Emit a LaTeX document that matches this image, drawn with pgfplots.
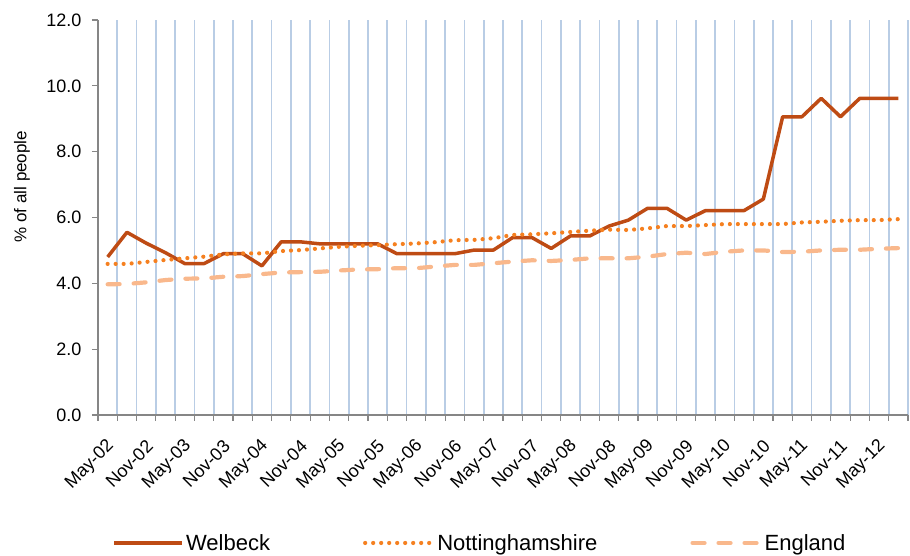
\documentclass[border=0pt]{standalone}
\usepackage{fontspec}
\setmainfont{Liberation Sans}
\usepackage{pgfplots}
\usepackage{pgfplotstable}
\pgfplotsset{compat=1.18}
\definecolor{welb}{RGB}{190,75,20}
\definecolor{notts}{RGB}{245,128,32}
\definecolor{eng}{RGB}{249,184,140}
\definecolor{gridblue}{RGB}{185,205,229}
\definecolor{axgray}{RGB}{134,134,134}
\pgfplotstableread{
i W N E
0 4.80 4.59 3.97
1 5.55 4.59 3.98
2 5.22 4.65 4.03
3 4.93 4.71 4.10
4 4.60 4.76 4.14
5 4.60 4.81 4.15
6 4.90 4.88 4.20
7 4.90 4.91 4.22
8 4.53 4.91 4.28
9 5.26 4.98 4.33
10 5.26 5.01 4.34
11 5.20 5.06 4.35
12 5.20 5.11 4.39
13 5.20 5.14 4.42
14 5.20 5.16 4.43
15 4.90 5.19 4.46
16 4.90 5.21 4.46
17 4.90 5.25 4.51
18 4.90 5.31 4.56
19 5.01 5.32 4.56
20 5.01 5.37 4.61
21 5.39 5.47 4.66
22 5.39 5.49 4.70
23 5.06 5.52 4.68
24 5.44 5.56 4.71
25 5.44 5.60 4.76
26 5.74 5.63 4.76
27 5.92 5.62 4.76
28 6.28 5.67 4.81
29 6.28 5.74 4.89
30 5.92 5.74 4.93
31 6.21 5.77 4.89
32 6.21 5.80 4.96
33 6.21 5.80 5.00
34 6.56 5.80 5.00
35 9.06 5.80 4.95
36 9.06 5.85 4.96
37 9.62 5.87 5.00
38 9.06 5.90 5.02
39 9.62 5.92 5.02
40 9.62 5.92 5.05
41 9.62 5.95 5.07
}\datatable
\begin{document}
\begin{tikzpicture}
\path[use as bounding box] (0,0) rectangle (910pt,556pt);
\begin{axis}[
  at={(98pt,141pt)}, anchor=south west,
  scale only axis, width=810pt, height=395pt,
  xmin=-0.5, xmax=41.5, ymin=0, ymax=12,
  axis x line*=bottom, axis y line*=left,
  axis line style={axgray, line width=1.5pt},
  tick align=outside,
  major tick length=6pt, minor tick length=6pt,
  tick style={axgray, line width=1.2pt},
  xtick={0,2,...,40},
  xticklabels={May-02,Nov-02,May-03,Nov-03,May-04,Nov-04,May-05,Nov-05,May-06,Nov-06,May-07,Nov-07,May-08,Nov-08,May-09,Nov-09,May-10,Nov-10,May-11,Nov-11,May-12},
  major x tick style={draw=none},
  minor xtick={-0.5,0.5,...,41.5},
  xminorgrids,
  minor grid style={gridblue, line width=1.7pt},
  ytick={0,2,...,12},
  /pgf/number format/assume math mode=true,
  ticklabel style={font=\fontsize{18}{20}\selectfont},
  yticklabel style={xshift=-7pt, /pgf/number format/.cd, fixed, fixed zerofill, precision=1},
  xticklabel style={xshift=6pt, yshift=-20pt, rotate=45, anchor=east},
  ylabel={\% of all people},
  ylabel style={at={(axis description cs:-0.094,0.578)}, anchor=center, font=\fontsize{17}{19}\selectfont},
  legend columns=3,
  legend style={at={(0.4716,-0.324)}, anchor=center, draw=none, font=\fontsize{22}{25}\selectfont,
    /tikz/every even column/.append style={column sep=91pt}},
  legend image code/.code={\draw[#1] (0pt,0pt) -- (68pt,0pt);},
]
\addplot[welb, line width=3.5pt, line join=round] table[x=i, y=W] {\datatable};
\addlegendentry{Welbeck}
\addplot[notts, line width=4.2pt, line cap=round, dash pattern=on 0pt off 8pt] table[x=i, y=N] {\datatable};
\addlegendentry{Nottinghamshire}
\addplot[eng, line width=4.2pt, line cap=round, dash pattern=on 12pt off 14pt] table[x=i, y=E] {\datatable};
\addlegendentry{England}
\end{axis}
\end{tikzpicture}
\end{document}
